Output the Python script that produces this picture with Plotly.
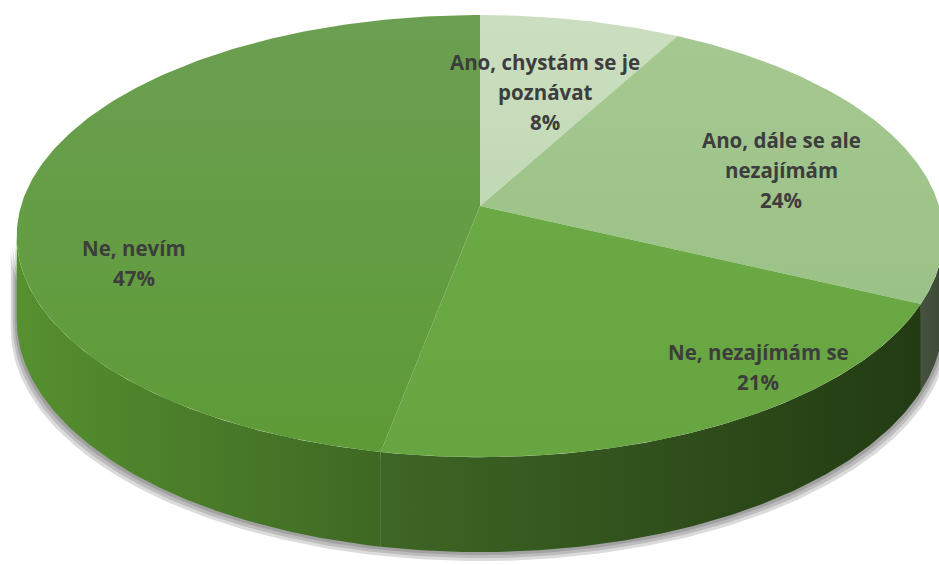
import numpy as np
import plotly.graph_objects as go

# data
categories = ["Ano, chystám se je poznávat", "Ano, dále se ale nezajímám",
              "Ne, nezajímám se", "Ne, nevím"]
percent = [8, 24, 21, 47]
label_lines = [["Ano, chystám se je", "poznávat"],
               ["Ano, dále se ale", "nezajímám"],
               ["Ne, nezajímám se"],
               ["Ne, nevím"]]

# styles (vertical gradients: first colour = bottom, second = top)
top_colors = [["#c2d9b5", "#cbdfc0"], ["#9bc286", "#a5c891"],
              ["#66a540", "#6aa944"], ["#5d9b36", "#6c9f52"]]
side_colors = [["#3e4d39", "#46543f"], ["#46523f", "#3a4934"],
               ["#3e6625", "#233b13"], ["#56902f", "#3e6823"]]
label_pos = [(545, 92), (781, 170), (758, 367), (134, 263)]

W, H = 939, 565
CX, CY, A, B, P, D = 480, 206, 459, 217, 0.136, 82


def project(theta):
    X, Z = np.sin(theta), np.cos(theta)
    s = 1 / (1 + P * Z)
    return CX + A * X * s, CY - B * Z * s, s


fig = go.Figure()

angles = np.cumsum([0] + percent) / sum(percent) * 2 * np.pi
vis_lo = np.arccos(-P)
vis_hi = 2 * np.pi - vis_lo

# soft shadow under the body
t = np.linspace(vis_lo, vis_hi, 200)
x, y, s = project(t)
for k in [9, 6, 3]:
    xs = np.concatenate([x, x[::-1]])
    ys = np.concatenate([y, (y + D * s)[::-1]])
    xs = CX + (xs - CX) * (1 + k / 700)
    fig.add_trace(go.Scatter(x=xs, y=ys + k, fill="toself", mode="lines",
                             line=dict(width=0), fillcolor="rgba(0,0,0,0.14)",
                             hoverinfo="skip", showlegend=False))

# sides
for i in range(len(percent)):
    a0, a1 = max(angles[i], vis_lo), min(angles[i + 1], vis_hi)
    if a1 <= a0:
        continue
    t = np.linspace(a0, a1, 120)
    x, y, s = project(t)
    xs = np.concatenate([x, x[::-1], x[:1]])
    ys = np.concatenate([y, (y + D * s)[::-1], y[:1]])
    fig.add_trace(go.Scatter(
        x=xs, y=ys, fill="toself", mode="lines", line=dict(width=0),
        fillgradient=dict(type="horizontal",
                          colorscale=[[0, side_colors[i][0]], [1, side_colors[i][1]]]),
        hoverinfo="skip", showlegend=False))

# top faces
for i in range(len(percent)):
    t = np.linspace(angles[i], angles[i + 1], 200)
    x, y, s = project(t)
    xs = np.concatenate([[CX], x, [CX]])
    ys = np.concatenate([[CY], y, [CY]])
    fig.add_trace(go.Scatter(
        x=xs, y=ys, fill="toself", mode="lines", line=dict(width=0),
        fillgradient=dict(type="vertical",
                          colorscale=[[0, top_colors[i][0]], [1, top_colors[i][1]]]),
        name=categories[i], hoverinfo="skip", showlegend=False))

# labels
for i, (lx, ly) in enumerate(label_pos):
    lines = label_lines[i] + [f"{percent[i]}%"]
    n = len(lines)
    for j, txt in enumerate(lines):
        fig.add_annotation(x=lx, y=ly + (j - (n - 1) / 2) * 30, text=txt,
                           showarrow=False, xanchor="center", yanchor="middle",
                           font=dict(family="Open Sans", size=20.5, color="#3d3d3d",
                                     weight="bold"))

fig.update_layout(
    width=W, height=H,
    margin=dict(t=0, b=0, l=0, r=0, pad=0),
    paper_bgcolor="white", plot_bgcolor="white",
    xaxis=dict(range=[0, W], visible=False, fixedrange=True),
    yaxis=dict(range=[H, 0], visible=False, fixedrange=True),
)

fig.write_html("out.html", config={"displayModeBar": False},
               post_script="document.body.style.margin='0px';")
